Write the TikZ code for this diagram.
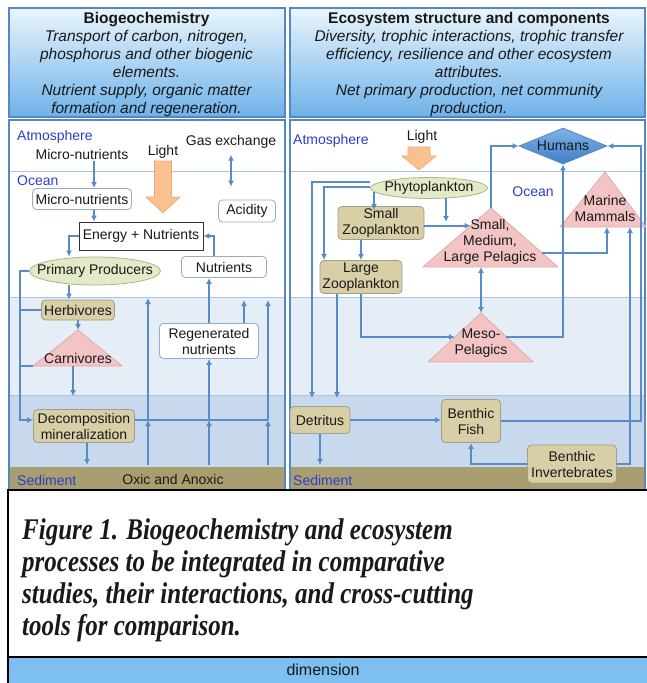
\documentclass[tikz,border=0pt]{standalone}
\usepackage{fontspec}
\setmainfont{Liberation Sans}
\newfontfamily\capfont{Liberation Serif}
\usetikzlibrary{arrows.meta, positioning, calc, shapes.geometric}

\definecolor{flowblue}{RGB}{88,140,200}
\definecolor{frameblue}{RGB}{86,134,196}
\definecolor{bandline}{RGB}{170,196,230}
\definecolor{bandA}{RGB}{229,237,247}
\definecolor{bandB}{RGB}{200,217,238}
\definecolor{sediment}{RGB}{169,158,111}
\definecolor{tanfill}{RGB}{216,207,167}
\definecolor{tanedge}{RGB}{160,158,140}
\definecolor{pinkfill}{RGB}{243,196,196}
\definecolor{pinkedge}{RGB}{222,170,170}
\definecolor{greenfill}{RGB}{226,234,200}
\definecolor{greenedge}{RGB}{170,182,140}
\definecolor{labelblue}{RGB}{45,60,205}
\definecolor{sunfill}{RGB}{249,193,143}
\definecolor{sunedge}{RGB}{232,168,112}
\definecolor{headtop}{RGB}{234,245,252}
\definecolor{headbot}{RGB}{110,178,233}
\definecolor{dimblue}{RGB}{124,191,240}
\definecolor{humtop}{RGB}{128,178,230}
\definecolor{humbot}{RGB}{62,126,200}
\definecolor{wedge}{RGB}{150,172,204}

\begin{document}
\begin{tikzpicture}[
    x=1pt, y=-1pt,
    every node/.style={font=\fontsize{14}{16}\selectfont, inner sep=2pt, text=black!90},
    wbox/.style={draw=wedge, fill=white, rounded corners=4pt, line width=0.8pt, align=center},
    tanbox/.style={draw=tanedge, fill=tanfill, rounded corners=4pt, line width=0.8pt, align=center},
    prod/.style={ellipse, draw=greenedge, fill=greenfill, line width=0.8pt},
    tri/.style={draw=pinkedge, fill=pinkfill, line width=0.8pt, line join=round},
    sun/.style={draw=sunedge, fill=sunfill, line width=0.6pt},
    flow/.style={draw=flowblue, line width=1.6pt, -{Latex[length=6pt,width=6pt]}},
    dflow/.style={flow, {Latex[length=6pt,width=6pt]}-{Latex[length=6pt,width=6pt]}},
    rail/.style={draw=flowblue, line width=1.6pt},
    placelbl/.style={text=labelblue, anchor=west, inner sep=0pt},
    bandsep/.style={draw=bandline, line width=0.8pt},
    panelframe/.style={draw=frameblue, line width=2.5pt},
    headtxt/.style={align=center, font=\fontsize{15.5}{18}\selectfont\itshape}
]
\useasboundingbox (0,0) rectangle (647,683);

\foreach \xa/\xb in {9/285, 290/645}{
  \fill[bandA] (\xa,297) rectangle (\xb,395);
  \fill[bandB] (\xa,395) rectangle (\xb,467);
  \fill[sediment] (\xa,467) rectangle (\xb,490);
  \draw[bandsep] (\xa,171) -- (\xb,171) (\xa,297) -- (\xb,297) (\xa,395) -- (\xb,395);
  \draw[panelframe] (\xa,120) rectangle (\xb,490);
  \shade[top color=headtop, bottom color=headbot] (\xa,8) rectangle (\xb,117);
  \draw[panelframe] (\xa,8) rectangle (\xb,117);
}

\node[headtxt] (bgchead) at (146.5,64) {{\upshape\bfseries Biogeochemistry}\\Transport of carbon, nitrogen,\\phosphorus and other biogenic\\elements.\\Nutrient supply, organic matter\\formation and regeneration.};
\node[headtxt] (ecohead) at (469,64) {{\upshape\bfseries Ecosystem structure and components}\\Diversity, trophic interactions, trophic transfer\\efficiency, resilience and other ecosystem\\attributes.\\Net primary production, net community\\production.};

% caption
\draw[line width=2pt, fill=white] (8,490) rectangle (652,657);
\fill[dimblue] (8,657) rectangle (652,683);
\draw[line width=2pt] (8,683) -- (8,657) -- (652,657);
\node[anchor=north west, inner sep=0pt, align=left, yscale=1.2,
      font=\capfont\bfseries\itshape\fontsize{25}{26.7}\selectfont] (caption) at (22,518)
  {Figure 1. Biogeochemistry and ecosystem\\processes to be integrated in comparative\\studies, their interactions, and cross-cutting\\tools for comparison.};
\node[font=\fontsize{16}{18}\selectfont] (dim) at (323,670) {dimension};

% triangles and light
\filldraw[tri] (78,330) coordinate (carnT) -- (122,366) coordinate (carnR) -- (33,366) coordinate (carnL) -- cycle;
\filldraw[tri] (491,208) coordinate (pelT) -- (558,267) coordinate (pelR) -- (423,267) coordinate (pelL) -- cycle;
\filldraw[tri] (605,172) coordinate (mamT) -- (646,227) coordinate (mamR) -- (560,227) coordinate (mamL) -- cycle;
\filldraw[tri] (481,313) coordinate (mesoT) -- (533,362) coordinate (mesoR) -- (428,362) coordinate (mesoL) -- cycle;
\filldraw[sun, shift={(163,161)}] (-8.5,0) -- (8.5,0) -- (8.5,36) -- (17,36) -- (0,52) -- (-17,36) -- (-8.5,36) -- cycle;
\filldraw[sun, shift={(419,147)}] (-11,0) -- (11,0) -- (11,9) -- (17,9) -- (0,23) -- (-17,9) -- (-11,9) -- cycle;

% left panel
\node[placelbl] (atmL) at (17,137) {Atmosphere};
\node (micA) at (82,154) {Micro-nutrients};
\node (lightL) at (163,152) {Light};
\node (gasx) at (231,142) {Gas exchange};
\node[placelbl] (oceanL) at (17,181) {Ocean};
\node[wbox, minimum width=99pt, minimum height=21pt] (micB) at (82,199) {Micro-nutrients};
\node[draw=black!80, fill=white, line width=0.8pt, minimum width=124pt, minimum height=28pt] (energy) at (141,236) {Energy + Nutrients};
\node[wbox, minimum width=57pt, minimum height=22pt] (acid) at (247,211) {Acidity};
\node[prod, minimum width=131pt, minimum height=28pt, inner sep=0pt] (prim) at (95,271) {\makebox[0pt]{Primary Producers}};
\node[wbox, minimum width=85pt, minimum height=21pt] (nutr) at (224,267) {Nutrients};
\node[tanbox, minimum width=73pt, minimum height=20pt] (herb) at (78,310) {Herbivores};
\node (carn) at (78,358) {Carnivores};
\node[wbox, minimum width=99pt, minimum height=35pt] (regen) at (209,341) {Regenerated\\nutrients};
\node[tanbox, minimum width=101pt, minimum height=33pt] (decomp) at (84,426) {Decomposition\\mineralization};
\node[placelbl] (sedL) at (17,480) {Sediment};
\node (oxic) at (173,479) {Oxic and Anoxic};

% right panel
\node[placelbl] (atmR) at (293,141) {Atmosphere};
\node (lightR) at (422,137) {Light};
\node[diamond, aspect=2.4, inner sep=0pt, minimum width=88pt, minimum height=36pt, draw=frameblue, line width=0.8pt, top color=humtop, bottom color=humbot] (humans) at (563,146) {\makebox[0pt]{Humans}};
\node[prod, minimum width=117pt, minimum height=21pt, inner sep=0pt] (phyto) at (429,188) {\makebox[0pt]{Phytoplankton}};
\node[text=labelblue] (oceanR) at (533,192) {Ocean};
\node[tanbox, minimum width=86pt, minimum height=31pt] (smzoo) at (381,223) {Small\\Zooplankton};
\node[tanbox, minimum width=82pt, minimum height=33pt] (lgzoo) at (361,277) {Large\\Zooplankton};
\node[align=center] (pel) at (490,242) {Small,\\Medium,\\Large Pelagics};
\node[align=center] (mam) at (605,208) {Marine\\Mammals};
\node[align=center] (meso) at (481,343) {Meso-\\Pelagics};
\node[tanbox, minimum width=60pt, minimum height=27pt] (detr) at (320,420) {Detritus};
\node[tanbox, minimum width=59pt, minimum height=43pt] (bfish) at (471,421) {Benthic\\Fish};
\node[tanbox, minimum width=89pt, minimum height=38pt] (binv) at (572,464) {Benthic\\Invertebrates};
\node[placelbl] (sedR) at (293,480) {Sediment};

% connector ends
\coordinate (lrail) at (20,271);
\coordinate (decOut) at (87,465);
\coordinate (decLine) at (268,420);
\coordinate (bandTop) at (0,298);
\foreach \x [count=\i] in {148,209,268} \coordinate (sedL\i) at (\x,465);
\coordinate (carnB) at ($(carnL)!0.45!(carnR)$);
\coordinate (phyDrop) at (446,222);
\coordinate (pelSide) at ($(pelT)!0.3!(pelL)$);
\coordinate (pelOut) at ($(pelT)!0.76!(pelR)$);
\coordinate (pelB) at ($(pelL)!0.43!(pelR)$);
\coordinate (mesoSide) at ($(mesoT)!0.49!(mesoL)$);
\coordinate (mesoOut) at ($(mesoT)!0.49!(mesoR)$);
\coordinate (mamB1) at ($(mamL)!0.545!(mamR)$);
\coordinate (mamB2) at ($(mamL)!0.814!(mamR)$);
\coordinate (rrail) at (641,146);
\coordinate (detrOut) at (320,465);

% left connectors
\draw[flow] ([xshift=12pt]micA.south) -- ([xshift=12pt]micB.north);
\draw[flow] ([xshift=12pt]micB.south) -- ([xshift=12pt]micB.south |- energy.north);
\draw[dflow, shorten <=4pt, shorten >=13pt] (gasx.south) -- (gasx.south |- acid.north);
\draw[flow] (energy.west) -| ([xshift=-26pt]prim.north);
\draw[flow] ([xshift=-10pt]nutr.north) |- (energy.east);
\draw[flow] ([xshift=-26pt]prim.south) -- ([xshift=-26pt]prim.south |- herb.north);
\draw[flow] (herb.south) -- (carnT);
\draw[flow] (carnB) -- ([yshift=13pt]carnB |- decomp.north);
\draw[flow] (prim.west) -- (prim.west -| lrail) |- ([yshift=6pt]decomp.west);
\draw[rail] (herb.west) -- (herb.west -| lrail);
\draw[rail] (carnL) -- (carnL -| lrail);
\draw[flow] ([xshift=3pt]decomp.south) -- (decOut);
\draw[rail] ([yshift=6pt]decomp.east) -- (decLine);
\foreach \i in {1,2,3} \draw[flow] (sedL\i) -- (sedL\i |- decLine);
\draw[flow] (sedL1 |- decLine) -- (sedL1 |- bandTop);
\draw[flow] (sedL2 |- decLine) -- (sedL2 |- regen.south);
\draw[flow] (sedL3 |- decLine) -- ([yshift=-2pt]sedL3 |- bandTop);
\draw[flow] ([xshift=35pt]regen.north) -- ([xshift=35pt,yshift=-2pt]regen.north |- bandTop);
\draw[flow] (regen.north) -- (regen.north |- nutr.south);

% right connectors
\draw[flow, shorten >=8pt] ([yshift=6pt]phyto.west) -| ([xshift=-8pt]detr.north);
\draw[flow] ([yshift=1pt]phyto.west) -| ([xshift=-37pt]lgzoo.north);
\draw[flow] ([xshift=-55pt,yshift=-4pt]phyto.center) -- ([xshift=-55pt,yshift=-4pt]phyto.center |- smzoo.north);
\draw[flow] ([xshift=17pt,yshift=-10pt]phyto.center) -- (phyDrop);
\draw[flow] (smzoo.east |- pelSide) -- (pelSide);
\draw[flow] (lgzoo.north |- smzoo.south) -- (lgzoo.north);
\draw[flow, shorten >=8pt] ([xshift=-24pt]lgzoo.south) -- ([xshift=17pt]detr.north);
\draw[flow] (lgzoo.south) |- (mesoSide);
\draw[flow] (pelT) |- (humans.west);
\draw[flow] (pelOut) -| (mamB1);
\draw[flow] (mesoOut) -| (humans.south);
\draw[dflow] (pelB) -- (mesoT);
\draw[flow] (detr.east) -- (detr.east -| bfish.west);
\draw[flow] (detr.south) -- (detrOut);
\draw[flow] (bfish.east) -| (rrail) -- (humans.east);
\draw[flow] (binv.west) -| (bfish.south);
\draw[flow] (binv.east) -| (mamB2);
\end{tikzpicture}
\end{document}
